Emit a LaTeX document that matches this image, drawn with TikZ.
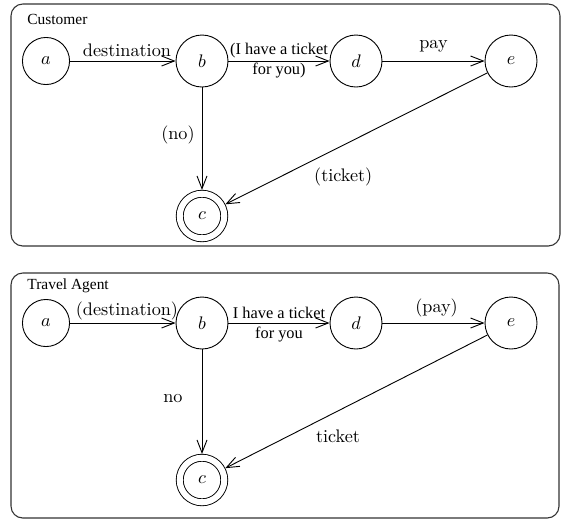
\documentclass[tikz,border=0pt]{standalone}
\usepackage{fontspec}
\usepackage{tikz}
\newfontfamily\timesfont{Liberation Serif}
\usetikzlibrary{arrows.meta}

\begin{document}
\begin{tikzpicture}[x=0.55pt,y=-0.55pt,
  state/.style={circle,draw,line width=0.5pt,minimum size=28.6pt,inner sep=0pt},
  final/.style={state,double,double distance=3.3pt,minimum size=24.5pt,outer sep=2.1pt},
  trans/.style={draw,line width=0.5pt,-{Straight Barb[length=7pt,width=5.5pt]}},
  lbl/.style={inner sep=0pt},
  say/.style={inner sep=0pt,align=center,font=\timesfont\fontsize{9}{11}\selectfont},
  panel/.style={draw=black!80,line width=0.6pt,rounded corners=6.5pt},
  title/.style={anchor=base west,inner sep=0pt,font=\timesfont\fontsize{8.5}{10}\selectfont}]
  \useasboundingbox (0,0) rectangle (565,519);

  % Customer
  \draw[panel] (11,4) rectangle (560,246);
  \node[title] (cust) at (27,24) {Customer};
  \node[state,minimum size=25.9pt] (a1) at (46,61) {$a$};
  \node[state] (b1) at (202,61) {$b$};
  \node[state] (d1) at (356,61) {$d$};
  \node[state] (e1) at (511,61) {$e$};
  \node[final] (c1) at (202,216) {$c$};
  \draw[trans] (a1) -- node[lbl,pos=.54,above=2.2pt] {destination} (b1);
  \draw[trans] (b1) -- node[say] {(I have a ticket\\for you)} (d1);
  \draw[trans] (d1) -- node[lbl,above=4.4pt] {pay} (e1);
  \draw[trans] (b1) -- node[lbl,pos=.46,left=3.8pt] {(no)} (c1);
  \draw[trans] (e1) -- node[lbl,pos=.55,below=12pt] {(ticket)} (c1);

  % Travel Agent
  \draw[panel] (11,273) rectangle (559,518);
  \node[title] (agent) at (27,289) {Travel Agent};
  \node[state,minimum size=25.9pt] (a2) at (46,323) {$a$};
  \node[state] (b2) at (202,323) {$b$};
  \node[state] (d2) at (356,323) {$d$};
  \node[state] (e2) at (511,323) {$e$};
  \node[final] (c2) at (202,480) {$c$};
  \draw[trans] (a2) -- node[lbl,pos=.54,above=1.4pt] {(destination)} (b2);
  \draw[trans] (b2) -- node[say,yshift=-1pt] {I have a ticket\\for you} (d2);
  \draw[trans] (d2) -- node[lbl,pos=.53,above=3.3pt] {(pay)} (e2);
  \draw[trans] (b2) -- node[lbl,pos=.47,left=10.5pt] {no} (c2);
  \draw[trans] (e2) -- node[lbl,pos=.57,below=10.4pt] {ticket} (c2);
\end{tikzpicture}
\end{document}
